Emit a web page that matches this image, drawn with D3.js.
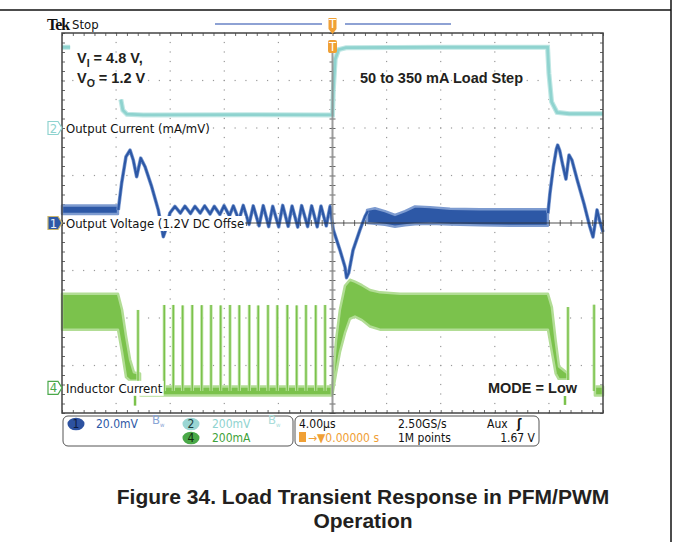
<!DOCTYPE html>
<html>
<head>
<meta charset="utf-8">
<script src="https://cdn.jsdelivr.net/npm/d3@7/dist/d3.min.js"></script>
<style>
body { margin: 0; background: #fff; }
svg { display: block; }
.lbl { font-family: "DejaVu Sans Condensed", "DejaVu Sans", sans-serif; font-stretch: condensed; font-size: 13px; }
.ro { font-size: 12px; }
.note { font-family: "Liberation Sans", Arial, sans-serif; font-weight: bold; font-size: 14.5px; fill: #231f20; }
.cap { font-family: "Liberation Sans", Arial, sans-serif; font-weight: bold; font-size: 21px; fill: #231f20; }
</style>
</head>
<body>
<svg id="chart" width="673" height="542"></svg>
<script>

// scope screen: 4 us/div, 10 x 8 divisions, trigger in the middle
var timeDomain = [-20, 20];
var divDomain = [-4, 4];
var chOffset = { ch1: 0, ch2: 2, ch4: -3.47 };   // divisions
var chScale = { ch1: 20, ch2: 200, ch4: 200 };   // mV/div, mA/div, mA/div

// ch2 output current (mA); null = hidden behind the annotation
var currentPts = [[-20, 340], [-19.4, 340], null,
    [-15.65, 120], [-15.5, 75], [-15.2, 58], [-14, 55], [-6, 56], [0, 55],
    [0.06, 160], [0.2, 290], [0.45, 330], [1, 338], [8, 340], [15.9, 340],
    [16.0, 230], [16.2, 110], [16.6, 66], [17.5, 60], [20, 60]];

// ch1 output voltage (mV, 1.2 V offset removed)
var voltBandL = [[-20, 3.8, 7.4], [-15.86, 3.8, 7.4]];
var voltPts = [[-15.84, 5.5], [-15.59, 16.8], [-15.27, 27.9], [-14.97, 30.7], [-14.73, 26.5],
    [-14.48, 19.5], [-14.18, 27.3], [-13.86, 23.7], [-13.37, 15.3], [-12.88, 5.5],
    [-12.51, -5.8], [-12.26, -1.6], [-12.02, 4.2],
    [-11.65, 7.0], [-11.25, 4.2], [-10.91, 7.1], [-10.5, 4.0], [-10.17, 7.0], [-9.78, 4.2],
    [-9.45, 7.2], [-9.05, 3.8], [-8.74, 7.0], [-8.33, 3.6], [-8.02, 7.3], [-7.62, 3.0],
    [-7.33, 7.2], [-6.92, 1.2], [-6.60, 7.4], [-6.17, -0.6], [-5.86, 7.2], [-5.43, -1.2],
    [-5.12, 7.3], [-4.72, -1.5], [-4.42, 7.0], [-3.98, -1.6], [-3.68, 7.4], [-3.28, -1.4],
    [-2.99, 7.1], [-2.57, -1.7], [-2.28, 7.3], [-1.84, -1.5], [-1.54, 7.2], [-1.13, -1.6],
    [-0.85, 7.1], [-0.46, -1.2], [-0.18, 7.0],
    [0.06, -2.9], [0.55, -11.4], [0.92, -18.4], [1.04, -23], [1.2, -21], [1.52, -11.4],
    [2.03, -2.9], [2.4, 2.7], [2.62, 5]];
var voltBandR = [[2.55, 0, 5.5], [3.14, -0.3, 6.2], [3.88, -0.8, 5], [4.62, -1.6, 3.4],
    [5.36, -1, 5], [6.1, -0.5, 7], [7.21, -0.3, 6.7], [8.69, -0.7, 6],
    [10.9, -1, 5.8], [13.1, -1.2, 5.8], [15.93, -1.2, 5.8]];
var voltEnd = [[15.93, 4.2], [16.08, 12.6], [16.33, 23.6], [16.55, 31], [16.65, 32.8],
    [16.8, 30.5], [17.0, 25], [17.26, 18.5], [17.49, 28.6], [17.7, 26.5], [18.1, 18],
    [18.6, 8], [19.0, -1], [19.26, -5.9], [19.45, 1], [19.56, 5.5], [19.75, 1], [20, -3.8]];

// ch4 inductor current (mA)
var indBandL = [[-20, 245, 396], [-15.86, 245, 396], [-15.56, 150, 330], [-15.27, 45, 220],
    [-14.97, 30, 120], [-14.68, 30, 65], [-14.23, 30, 60]];
var indBandR = [[0, -25, 10], [0.26, 60, 200], [0.55, 150, 330], [0.92, 230, 430],
    [1.29, 290, 455], [1.66, 300, 447], [2.18, 285, 432], [2.77, 258, 412], [3.51, 245, 402],
    [5, 245, 396], [15.93, 245, 396], [16.22, 150, 340], [16.5, 60, 200], [16.75, 35, 90],
    [17.41, 35, 60]];
var indBase = [[-14.2, -32, 6], [-0.05, -32, 6], null, [19.4, -32, 6], [20, -32, 6]];
var indSpikes = [[-14.38, 328], [-12.44, 349], [-11.77, 349], [-11.08, 347], [-10.37, 349],
    [-9.67, 348], [-8.98, 349], [-8.27, 347], [-7.58, 349], [-6.89, 348], [-6.15, 349],
    [-5.49, 347], [-4.77, 349], [-4.08, 348], [-3.34, 349], [-2.65, 347], [-1.96, 349],
    [-1.24, 348], [-0.55, 349], [17.41, 340], [19.34, 350]];
var indDips = [[-14.6, -75], [17.19, -72]];

var chColor = { ch1: "#2d58a6", ch2: "#8fd3cf", ch4: "#7bc24c" };

var svg = d3.select("#chart");
var x = d3.scaleLinear().domain(timeDomain).range([62, 603]);
var y = d3.scaleLinear().domain(divDomain).range([413, 33]);

function yc(ch) { return function(v) { return y(v / chScale[ch] + chOffset[ch]); }; }
var y1 = yc("ch1"), y2 = yc("ch2"), y4 = yc("ch4");

// frame of the datasheet page
svg.append("line").attr("x1", 0).attr("x2", 671).attr("y1", 10).attr("y2", 10)
    .attr("stroke", "#111").attr("stroke-width", 1.5);
svg.append("line").attr("x1", 671).attr("x2", 671).attr("y1", 0).attr("y2", 542)
    .attr("stroke", "#111").attr("stroke-width", 1.5);

// graticule dots
var subX = d3.range(-20, 20.01, 0.8);
var subY = d3.range(-4, 4.01, 0.2);
var dots = [];
[-16, -12, -8, -4, 4, 8, 12, 16].forEach(function(t) {
    subY.forEach(function(v) { dots.push([t, v]); });
});
[-3, -2, -1, 1, 2, 3].forEach(function(v) {
    subX.forEach(function(t) { dots.push([t, v]); });
});
svg.append("g").selectAll("rect").data(dots).join("rect")
    .attr("x", function(d) { return x(d[0]) - 0.6; })
    .attr("y", function(d) { return y(d[1]) - 0.6; })
    .attr("width", 1.2).attr("height", 1.2).attr("fill", "#999");

// border ticks, pointing inwards
function tickStyle(g) {
    g.select(".domain").remove();
    g.selectAll(".tick line").attr("stroke", "#666").attr("stroke-width", 1);
}
svg.append("g").attr("transform", "translate(0," + y(4) + ")")
    .call(d3.axisTop(x).tickValues(subX).tickSize(-3).tickFormat("")).call(tickStyle);
svg.append("g").attr("transform", "translate(0," + y(-4) + ")")
    .call(d3.axisBottom(x).tickValues(subX).tickSize(-3).tickFormat("")).call(tickStyle);
svg.append("g").attr("transform", "translate(" + x(-20) + ",0)")
    .call(d3.axisLeft(y).tickValues(subY).tickSize(-3).tickFormat("")).call(tickStyle);
svg.append("g").attr("transform", "translate(" + x(20) + ",0)")
    .call(d3.axisRight(y).tickValues(subY).tickSize(-3).tickFormat("")).call(tickStyle);
// centre line ticks
svg.append("g").attr("transform", "translate(0," + (y(0) - 3) + ")")
    .call(d3.axisBottom(x).tickValues(subX).tickSize(6).tickFormat("")).call(tickStyle);
svg.append("g").attr("transform", "translate(" + (x(0) - 3) + ",0)")
    .call(d3.axisRight(y).tickValues(subY).tickSize(6).tickFormat("")).call(tickStyle);

// ---- traces ----
var line2 = d3.line().defined(function(d) { return d; })
    .x(function(d) { return x(d[0]); }).y(function(d) { return y2(d[1]); });
svg.append("path").attr("d", line2(currentPts)).attr("fill", "none")
    .attr("stroke", "#bfe7e4").attr("stroke-width", 5);
svg.append("path").attr("d", line2(currentPts)).attr("fill", "none")
    .attr("stroke", chColor.ch2).attr("stroke-width", 2.8);

// inductor current
var area4 = d3.area().defined(function(d) { return d; })
    .x(function(d) { return x(d[0]); })
    .y0(function(d) { return y4(d[1]); }).y1(function(d) { return y4(d[2]); });
[indBandL, indBandR, indBase].forEach(function(b) {
    svg.append("path").attr("d", area4(b)).attr("fill", chColor.ch4)
        .attr("stroke", "#b2dd95").attr("stroke-width", 2.5).attr("stroke-linejoin", "round");
});
var spikeG = svg.append("g");
spikeG.selectAll(".sp0").data(indSpikes).join("line").attr("class", "sp0")
    .attr("x1", function(d) { return x(d[0]); }).attr("x2", function(d) { return x(d[0]); })
    .attr("y1", y4(-13)).attr("y2", function(d) { return y4(d[1]); })
    .attr("stroke", "#c2e5aa").attr("stroke-width", 3.2);
spikeG.selectAll(".sp1").data(indSpikes).join("line").attr("class", "sp1")
    .attr("x1", function(d) { return x(d[0]); }).attr("x2", function(d) { return x(d[0]); })
    .attr("y1", y4(-13)).attr("y2", function(d) { return y4(d[1]); })
    .attr("stroke", chColor.ch4).attr("stroke-width", 1.5);
spikeG.selectAll(".dip").data(indDips).join("line").attr("class", "dip")
    .attr("x1", function(d) { return x(d[0]); }).attr("x2", function(d) { return x(d[0]); })
    .attr("y1", y4(-30)).attr("y2", function(d) { return y4(d[1]); })
    .attr("stroke", chColor.ch4).attr("stroke-width", 2.5);

// output voltage
var area1 = d3.area().x(function(d) { return x(d[0]); })
    .y0(function(d) { return y1(d[1]); }).y1(function(d) { return y1(d[2]); });
var line1 = d3.line().x(function(d) { return x(d[0]); }).y(function(d) { return y1(d[1]); });
[voltBandL, voltBandR].forEach(function(b) {
    svg.append("path").attr("d", area1(b)).attr("fill", chColor.ch1)
        .attr("stroke", "#7d9bd0").attr("stroke-width", 2.4).attr("stroke-linejoin", "round");
});
[voltPts, voltEnd].forEach(function(p) {
    svg.append("path").attr("d", line1(p)).attr("fill", "none")
        .attr("stroke", "#7d9bd0").attr("stroke-width", 3.6).attr("stroke-linejoin", "round");
    svg.append("path").attr("d", line1(p)).attr("fill", "none")
        .attr("stroke", chColor.ch1).attr("stroke-width", 2.2).attr("stroke-linejoin", "round");
});

// centre lines on top of the traces
svg.append("line").attr("x1", x(0)).attr("x2", x(0)).attr("y1", y(4) + 20).attr("y2", y(-4))
    .attr("stroke", "#8c8c8c").attr("stroke-width", 2).attr("opacity", 0.85);
svg.append("line").attr("x1", x(-20)).attr("x2", x(20)).attr("y1", y(0)).attr("y2", y(0))
    .attr("stroke", "#333").attr("stroke-width", 1.2).attr("opacity", 0.85);

// border
svg.append("rect").attr("x", x(-20)).attr("y", y(4))
    .attr("width", x(20) - x(-20)).attr("height", y(-4) - y(4))
    .attr("fill", "none").attr("stroke", "#444").attr("stroke-width", 1.5);

// ---- channel labels with white background ----
function label(txt, yy, xx, cls) {
    var t = svg.append("text").attr("class", cls).attr("x", xx).attr("y", yy).text(txt);
    var b = t.node().getBBox();
    svg.insert("rect", function() { return t.node(); })
        .attr("x", b.x - 1).attr("y", b.y).attr("width", b.width + 2).attr("height", b.height)
        .attr("fill", "#fff");
    return t;
}
label("Output Current (mA/mV)", y2(0) + 5, 66, "lbl").attr("fill", "#111");
label("Output Voltage (1.2V DC Offse", y1(0) + 5, 66, "lbl").attr("fill", "#111");
label("Inductor Current", y4(0) + 5, 66, "lbl").attr("fill", "#111");

function marker(yy, col, fill, num, txtCol) {
    var g = svg.append("g").attr("transform", "translate(48," + yy + ")");
    g.append("path").attr("d", "M0,-6.5 H10 L14,0 L10,6.5 H0 Z")
        .attr("fill", fill).attr("stroke", col).attr("stroke-width", 1.2);
    g.append("text").attr("class", "lbl").attr("x", 5.5).attr("y", 4.5)
        .attr("text-anchor", "middle").attr("font-size", 12).attr("fill", txtCol).text(num);
}
marker(y2(0), chColor.ch2, "#fff", "2", chColor.ch2);
marker(y1(0), "#c9b56a", chColor.ch1, "1", "#e8eef8");
marker(y4(0), "#4aa84a", "#fff", "4", "#4aa84a");

// ---- annotations ----
var n1 = svg.append("text").attr("class", "note").attr("x", 77).attr("y", 63);
n1.append("tspan").text("V");
n1.append("tspan").attr("font-size", 10.5).attr("dy", 4).text("I");
n1.append("tspan").attr("dy", -4).text(" = 4.8 V,");
var n2 = svg.append("text").attr("class", "note").attr("x", 77).attr("y", 83);
n2.append("tspan").text("V");
n2.append("tspan").attr("font-size", 10.5).attr("dy", 4).text("O");
n2.append("tspan").attr("dy", -4).text(" = 1.2 V");
svg.append("text").attr("class", "note").attr("x", 360).attr("y", 83).attr("font-size", 15)
    .text("50 to 350 mA Load Step");
label("MODE = Low", 393, 488, "note");

// ---- top status line ----
svg.append("text").attr("x", 47).attr("y", 30)
    .attr("font-family", "'Liberation Serif', 'DejaVu Serif', serif").attr("font-weight", "bold")
    .attr("font-size", 16).attr("letter-spacing", -1).attr("fill", "#111").text("Tek");
svg.append("text").attr("class", "lbl").attr("x", 72).attr("y", 29).attr("font-size", 14)
    .attr("fill", "#111").text("Stop");
svg.append("line").attr("x1", 215).attr("x2", 322).attr("y1", 24).attr("y2", 24)
    .attr("stroke", "#8ea2d4").attr("stroke-width", 2);
svg.append("line").attr("x1", 345).attr("x2", 451).attr("y1", 24).attr("y2", 24)
    .attr("stroke", "#8ea2d4").attr("stroke-width", 2);
var orange = "#f0a035";
svg.append("rect").attr("x", x(0) - 4).attr("y", 18).attr("width", 8).attr("height", 11)
    .attr("fill", orange);
svg.append("path").attr("d", "M" + (x(0) - 4) + ",29 L" + (x(0) + 4) + ",29 L" + x(0) + ",34 Z")
    .attr("fill", orange);
svg.append("text").attr("class", "lbl").attr("x", x(0)).attr("y", 27.5).attr("text-anchor", "middle")
    .attr("font-size", 9).attr("fill", "#fff").text("T");
svg.append("rect").attr("x", x(0) - 4.5).attr("y", 40).attr("width", 9).attr("height", 13)
    .attr("rx", 2).attr("fill", orange);
svg.append("text").attr("class", "lbl").attr("x", x(0)).attr("y", 51).attr("text-anchor", "middle")
    .attr("font-size", 11).attr("fill", "#fff").text("T");

// ---- readout boxes ----
var row1 = 428, row2 = 442;
function box(x0, x1) {
    svg.append("rect").attr("x", x0).attr("y", 416).attr("width", x1 - x0).attr("height", 30)
        .attr("rx", 5).attr("fill", "#fff").attr("stroke", "#555").attr("stroke-width", 1);
}
box(63, 293);
box(295, 539);
function badge(cx, cy, fill, num, tcol) {
    svg.append("ellipse").attr("cx", cx).attr("cy", cy).attr("rx", 8.5).attr("ry", 6.3).attr("fill", fill);
    svg.append("text").attr("class", "lbl ro").attr("x", cx).attr("y", cy + 4)
        .attr("text-anchor", "middle").attr("font-size", 11).attr("fill", tcol).text(num);
}
function readout(xx, yy, txt, col, anchor) {
    return svg.append("text").attr("class", "lbl ro").attr("x", xx).attr("y", yy)
        .attr("text-anchor", anchor || "start").attr("fill", col).text(txt);
}
function bwIcon(xx, col) {
    var t = svg.append("text").attr("class", "lbl").attr("x", xx).attr("y", row1 - 4)
        .attr("font-size", 7).attr("fill", col);
    t.append("tspan").text("B");
    t.append("tspan").attr("dy", 3).attr("font-size", 6).text("w");
}
badge(76, row1 - 4, "#2d52a0", "1", "#0e1c40");
readout(96, row1, "20.0mV", chColor.ch1);
bwIcon(152, "#8aa6d6");
badge(191, row1 - 4, "#9ad6d3", "2", "#1d3b3a");
readout(212, row1, "200mV", chColor.ch2);
bwIcon(268, "#a9dcda");
badge(191, row2 - 4, "#4aa848", "4", "#0f2c0f");
readout(212, row2, "200mA", "#3fa23a");

readout(299, row1, "4.00\u00b5s", "#111");
readout(398, row1, "2.50GS/s", "#111");
readout(487, row1, "Aux", "#111");
readout(517, row1, "\u0283", "#111").attr("font-weight", "bold");
svg.append("rect").attr("x", 299).attr("y", row2 - 10).attr("width", 7).attr("height", 10).attr("fill", orange);
readout(308, row2, "\u2192\u25bc0.00000 s", orange);
readout(398, row2, "1M points", "#111");
readout(535, row2, "1.67 V", "#111", "end");

// ---- caption ----
svg.append("text").attr("class", "cap").attr("x", 363).attr("y", 504).attr("text-anchor", "middle")
    .text("Figure 34. Load Transient Response in PFM/PWM");
svg.append("text").attr("class", "cap").attr("x", 363).attr("y", 528).attr("text-anchor", "middle")
    .text("Operation");

</script>
</body>
</html>
